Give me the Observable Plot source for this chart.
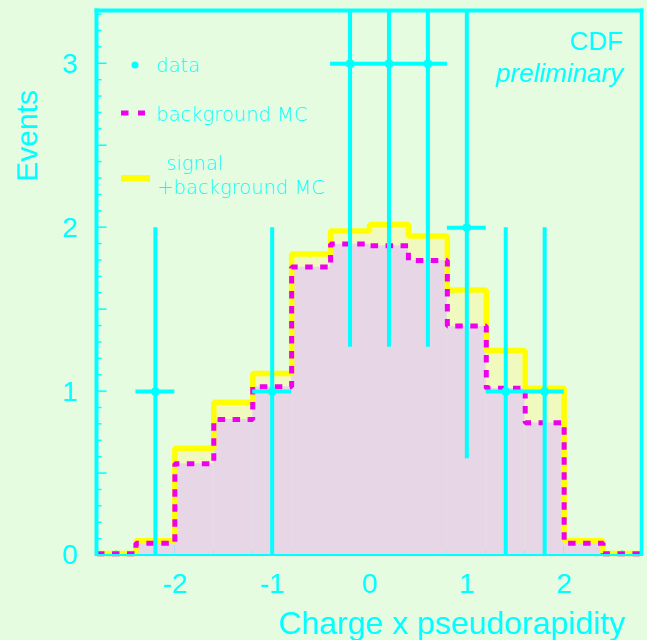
<!DOCTYPE html>
<html>
<head>
<meta charset="utf-8">
<script src="https://cdn.jsdelivr.net/npm/d3@7"></script>
<script src="https://cdn.jsdelivr.net/npm/@observablehq/plot@0.6"></script>
<style>
  html, body { margin: 0; padding: 0; background: #e6fce1; }
</style>
</head>
<body>
<div id="chart"></div>
<script>
// ---------- data ----------
const binLow = [-2.8, -2.4, -2.0, -1.6, -1.2, -0.8, -0.4, 0.0, 0.4, 0.8, 1.2, 1.6, 2.0, 2.4];
const binWidth = 0.4;
const bgMC    = [0.010, 0.075, 0.56, 0.83, 1.03, 1.76, 1.90, 1.89, 1.80, 1.40, 1.02, 0.81, 0.075, 0.010];
const sigBgMC = [0.012, 0.090, 0.655, 0.935, 1.11, 1.84, 1.98, 2.02, 1.95, 1.62, 1.25, 1.02, 0.090, 0.012];

const dataX   = [-2.2, -1.0, -0.2, 0.2, 0.6, 1.0, 1.4, 1.8];
const dataY   = [1, 1, 3, 3, 3, 2, 1, 1];
const dataErr = [1, 1, 1.73, 1.73, 1.73, 1.41, 1, 1];

const xTicks = [-2, -1, 0, 1, 2];
const xTickLabels = ["-2", "-1", "0", "1", "2"];
const yTicks = [0, 1, 2, 3];
const yTickLabels = ["0", "1", "2", "3"];
const xMinorTicks = d3.range(-2.6, 2.61, 0.2);
const yMinorTicks = d3.range(0.1, 3.31, 0.1);

const xLabel = "Charge x pseudorapidity";
const yLabel = "Events";
const legendLabels = ["data", "background MC", "signal", "+background MC"];
const cornerTexts = ["CDF", "preliminary"];

// ---------- styles ----------
const BG = "#e6fce1";
const CYAN = "#00ffff";
const MAG = "#ee00ee";
const YEL = "#ffff00";
const PINK = "#e6d6e6";
const LYEL = "#f0fabe";
const SANS = "'Liberation Sans', Arial, Helvetica, sans-serif";
const THIN = "'DejaVu Sans', sans-serif";

// ---------- derived tables ----------
const bins = binLow.map((x1, i) => ({x1, x2: x1 + binWidth, bg: bgMC[i], sig: sigBgMC[i]}));
const outline = key => bins.flatMap(b => [{x: b.x1, y: b[key]}, {x: b.x2, y: b[key]}]);
const points = dataX.map((x, i) => ({x, y: dataY[i], e: dataErr[i]}));

const isMultiple = (v, step) => Math.abs(v / step - Math.round(v / step)) < 1e-6;

// inward ticks (drawn under the histogram)
function tickMarks(index, scales, values, dims) {
  const g = d3.create("svg:g").attr("stroke", CYAN).attr("stroke-width", 1.5).attr("fill", "none");
  const x0 = dims.marginLeft;
  const yb = dims.height - dims.marginBottom;
  for (const v of yMinorTicks) {
    const y = scales.y(v);
    const len = isMultiple(v, 0.5) ? 10 : 5;
    g.append("line").attr("x1", x0).attr("x2", x0 + len).attr("y1", y).attr("y2", y);
  }
  for (const v of xMinorTicks) {
    const x = scales.x(v);
    const len = isMultiple(v, 1) ? 10 : 5;
    g.append("line").attr("x1", x).attr("x2", x).attr("y1", yb).attr("y2", yb - len);
  }
  return g.node();
}

// frame, legend and annotations
function overlay(index, scales, values, dims) {
  const g = d3.create("svg:g").attr("text-anchor", "start");
  const L = dims.marginLeft, R = dims.width - dims.marginRight;
  const T = dims.marginTop, B = dims.height - dims.marginBottom;
  // frame
  const fr = g.append("g").attr("stroke", CYAN).attr("fill", "none");
  fr.append("line").attr("x1", L).attr("x2", L).attr("y1", T - 2).attr("y2", B + 1).attr("stroke-width", 4);
  fr.append("line").attr("x1", L - 2).attr("x2", R + 2).attr("y1", T).attr("y2", T).attr("stroke-width", 4.2);
  fr.append("line").attr("x1", R).attr("x2", R).attr("y1", T - 2).attr("y2", B + 1).attr("stroke-width", 3.5);
  fr.append("line").attr("x1", L).attr("x2", R).attr("y1", B).attr("y2", B).attr("stroke-width", 2);

  // legend
  const lg = g.append("g");
  lg.append("circle").attr("cx", 135).attr("cy", 65).attr("r", 3.5).attr("fill", CYAN);
  lg.append("line").attr("x1", 121).attr("x2", 145).attr("y1", 113).attr("y2", 113)
    .attr("stroke", MAG).attr("stroke-width", 5).attr("stroke-dasharray", "7.5,9.5");
  lg.append("line").attr("x1", 121).attr("x2", 150).attr("y1", 178).attr("y2", 178)
    .attr("stroke", YEL).attr("stroke-width", 6);
  const lt = lg.append("g").attr("fill", CYAN).attr("font-family", THIN)
    .attr("font-weight", 200).attr("font-size", 19.5).attr("text-anchor", "start");
  lt.append("text").attr("x", 156).attr("y", 72).text(legendLabels[0]);
  lt.append("text").attr("x", 156).attr("y", 121).text(legendLabels[1]);
  lt.append("text").attr("x", 166).attr("y", 170).text(legendLabels[2]);
  lt.append("text").attr("x", 157).attr("y", 194).text(legendLabels[3]);

  // corner texts
  const ct = g.append("g").attr("fill", CYAN).attr("font-family", SANS).attr("font-size", 26)
    .attr("text-anchor", "end");
  ct.append("text").attr("x", 623).attr("y", 50).text(cornerTexts[0]);
  ct.append("text").attr("x", 623).attr("y", 82).attr("font-style", "italic").text(cornerTexts[1]);

  // axis titles
  g.append("text").attr("fill", CYAN).attr("font-family", SANS).attr("font-size", 32)
    .attr("text-anchor", "end").attr("x", 625).attr("y", 634).text(xLabel);
  g.append("text").attr("fill", CYAN).attr("font-family", SANS).attr("font-size", 30)
    .attr("text-anchor", "end").attr("transform", "translate(37,90) rotate(-90)").text(yLabel);
  return g.node();
}

const chart = Plot.plot({
  width: 647,
  height: 640,
  marginLeft: 96.5,
  marginRight: 5.5,
  marginTop: 10.5,
  marginBottom: 85,
  style: {background: BG, fontFamily: SANS, color: CYAN, overflow: "visible"},
  x: {domain: [-2.8, 2.8]},
  y: {domain: [0, 3.322]},
  marks: [
    tickMarks,
    Plot.rect(bins, {x1: "x1", x2: "x2", y1: 0, y2: "bg", fill: PINK}),
    Plot.rect(bins, {x1: "x1", x2: "x2", y1: "bg", y2: "sig", fill: LYEL}),
    Plot.line(outline("sig"), {x: "x", y: "y", stroke: YEL, strokeWidth: 5.5,
      strokeLinejoin: "miter", strokeLinecap: "butt"}),
    Plot.line(outline("bg"), {x: "x", y: "y", stroke: MAG, strokeWidth: 5,
      strokeDasharray: "7.5,7.5", strokeLinejoin: "miter", strokeLinecap: "butt"}),
    Plot.ruleX(points, {x: "x", y1: d => d.y - d.e, y2: d => d.y + d.e, stroke: CYAN, strokeWidth: 4, clip: true}),
    Plot.ruleY(points, {y: "y", x1: d => d.x - binWidth / 2, x2: d => d.x + binWidth / 2, stroke: CYAN, strokeWidth: 4}),
    Plot.dot(points, {x: "x", y: "y", r: 4.5, fill: CYAN, stroke: null}),
    Plot.axisX({ticks: xTicks, tickFormat: d => xTickLabels[xTicks.indexOf(d)], tickSize: 0, tickPadding: 18,
      fontSize: 28, fill: CYAN, label: null}),
    Plot.axisY({ticks: yTicks, tickFormat: d => yTickLabels[yTicks.indexOf(d)], tickSize: 0, tickPadding: 19.5,
      fontSize: 28, fill: CYAN, label: null}),
    overlay
  ]
});
document.getElementById("chart").appendChild(chart);
</script>
</body>
</html>
